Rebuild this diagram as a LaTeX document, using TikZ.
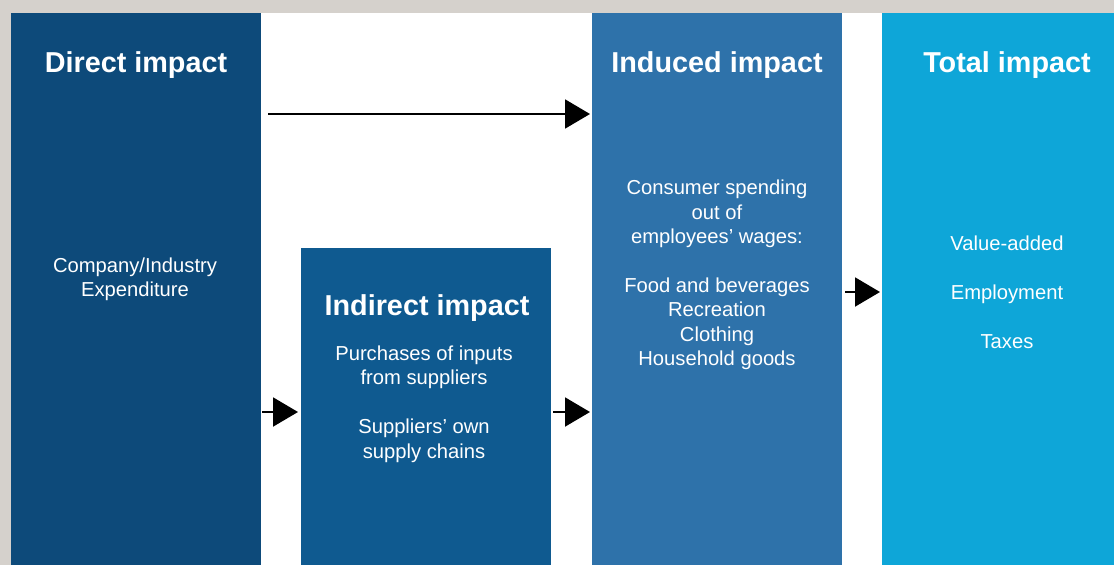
\documentclass[tikz,border=0pt]{standalone}
\usepackage{fontspec}
\setmainfont{Liberation Sans}
\usetikzlibrary{arrows.meta,positioning}

\definecolor{framegrey}{RGB}{213,209,204}
\definecolor{directblue}{RGB}{13,74,122}
\definecolor{indirectblue}{RGB}{15,90,144}
\definecolor{inducedblue}{RGB}{46,114,170}
\definecolor{totalblue}{RGB}{14,166,216}

\tikzset{
  impactbox/.style={draw=none,minimum width=250pt,inner sep=0pt,outer sep=0pt},
  boxtitle/.style={text=white,font=\fontsize{28.8}{34}\selectfont\bfseries,align=center},
  boxtext/.style={text=white,font=\fontsize{20.2}{24.4}\selectfont,align=center},
  flow/.style={line width=2pt,-{Triangle[length=25pt,width=29pt]}}
}

\begin{document}
\begin{tikzpicture}[x=1pt,y=-1pt]
\useasboundingbox (0,0) rectangle (1114,565);
\clip (0,0) rectangle (1114,565);
\fill[framegrey] (0,0) rectangle (1114,565);
\fill[white] (11,13) rectangle (1114,575);

% the four columns
\node[impactbox,fill=directblue,minimum height=562pt] (direct) at (136,294) {};
\node[impactbox,fill=indirectblue,minimum height=327pt] (indirect) at (426,411.5) {};
\node[impactbox,fill=inducedblue,minimum height=562pt] (induced) at (717,294) {};
\node[impactbox,fill=totalblue,minimum height=562pt] (total) at (1007,294) {};

% headings
\node[boxtitle] (directtitle) at (136,65) {Direct impact};
\node[boxtitle] (indirecttitle) at (427,308) {Indirect impact};
\node[boxtitle] (inducedtitle) at (717,65) {Induced impact};
\node[boxtitle] (totaltitle) at (1007,65) {Total impact};

% contents
\node[boxtext] (directtext) at (135,279) {Company/Industry\\Expenditure};
\node[boxtext] (indirecttext) at (424,404) {Purchases of inputs\\from suppliers\\[24.4pt]Suppliers' own\\supply chains};
\node[boxtext] (inducedtext) at (717,275) {Consumer spending\\out of\\employees' wages:\\[24.4pt]Food and beverages\\Recreation\\Clothing\\Household goods};
\node[boxtext] (totaltext) at (1007,292) {Value-added\\[24.4pt]Employment\\[24.4pt]Taxes};

% arrows
\coordinate (toprow) at (0,114);
\coordinate (midrow) at (0,292);
\coordinate (lowrow) at (0,412);
\draw[flow] ([xshift=7pt]direct.east |- toprow) -- ([xshift=-2pt]induced.west |- toprow);
\draw[flow] ([xshift=1pt]direct.east |- lowrow) -- ([xshift=-3pt]indirect.west |- lowrow);
\draw[flow] ([xshift=2pt]indirect.east |- lowrow) -- ([xshift=-2pt]induced.west |- lowrow);
\draw[flow] ([xshift=3pt]induced.east |- midrow) -- ([xshift=-2pt]total.west |- midrow);
\end{tikzpicture}
\end{document}
